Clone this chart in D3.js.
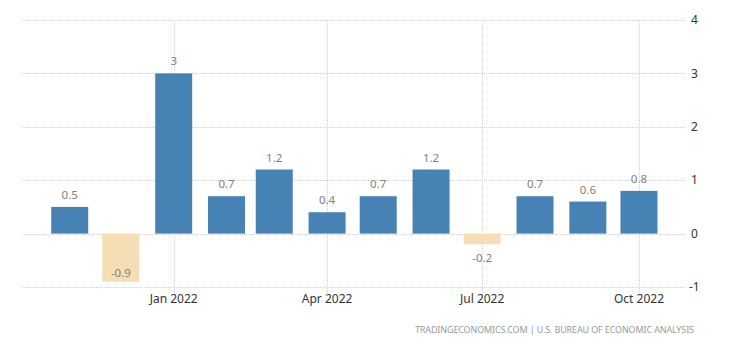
<!DOCTYPE html>
<html><head><meta charset="utf-8">
<script src="https://cdn.jsdelivr.net/npm/d3@7"></script>
<style>
html,body{margin:0;padding:0;background:#fff;}
svg{display:block;}
</style>
</head><body>
<svg id="chart" width="740" height="345"></svg>
<script>
const months = ["2021-11-01","2021-12-01","2022-01-01","2022-02-01","2022-03-01","2022-04-01","2022-05-01","2022-06-01","2022-07-01","2022-08-01","2022-09-01","2022-10-01"];
const values = [0.5,-0.9,3,0.7,1.2,0.4,0.7,1.2,-0.2,0.7,0.6,0.8];
const yTicks = [-1,0,1,2,3,4];
const xTickDates = ["2022-01-01","2022-04-01","2022-07-01","2022-10-01"];
const xDomain = ["2021-10-04","2022-10-28"];
const source = "TRADINGECONOMICS.COM | U.S. BUREAU OF ECONOMIC ANALYSIS";

const parse = d3.utcParse("%Y-%m-%d");
const fmt = d3.utcFormat("%b %Y");
const svg = d3.select("#chart");
const pLeft = 22, pRight = 685, pTop = 20, pBottom = 287;

const x = d3.scaleUtc().domain(xDomain.map(parse)).range([pLeft, pRight]);
const y = d3.scaleLinear().domain([-1, 4]).range([pBottom, pTop]);
const barW = 37;

// horizontal grid
svg.append("g").selectAll("line").data(yTicks).join("line")
  .attr("x1", pLeft).attr("x2", pRight)
  .attr("y1", d => Math.round(y(d)) + 0.5).attr("y2", d => Math.round(y(d)) + 0.5)
  .attr("stroke", "#d0d0d0").attr("stroke-width", 1).attr("stroke-dasharray", "1,1");

// vertical grid
svg.append("g").selectAll("line").data(xTickDates.map(parse)).join("line")
  .attr("x1", d => Math.round(x(d)) + 0.5).attr("x2", d => Math.round(x(d)) + 0.5)
  .attr("y1", pTop).attr("y2", pBottom + 6)
  .attr("stroke", "#d0d0d0").attr("stroke-width", 1).attr("stroke-dasharray", "1,1");

// bars
const data = months.map((m, i) => ({date: parse(m), v: values[i]}));
svg.append("g").selectAll("rect").data(data).join("rect")
  .attr("x", d => x(d.date) - barW / 2)
  .attr("width", barW)
  .attr("y", d => y(Math.max(0, d.v)))
  .attr("height", d => Math.abs(y(d.v) - y(0)))
  .attr("fill", d => d.v >= 0 ? "#4682b4" : "#f5deb3");

// value labels
svg.append("g").selectAll("text").data(data).join("text")
  .attr("x", d => x(d.date))
  .attr("y", d => d.v >= 0 ? y(d.v) - 12 : Math.min(y(d.v) + 14, pBottom - 14))
  .attr("dy", "0.35em")
  .attr("text-anchor", "middle")
  .attr("font-family", "'Noto Sans', sans-serif")
  .attr("font-size", 11.5)
  .attr("fill", "#808080")
  .text(d => String(d.v));

// y axis labels (right)
svg.append("g").selectAll("text").data(yTicks).join("text")
  .attr("x", d => d < 0 ? 689 : 691)
  .attr("y", d => y(d))
  .attr("dy", "0.35em")
  .attr("font-family", "'Noto Sans', sans-serif")
  .attr("font-size", 12)
  .attr("fill", "#333")
  .text(d => String(d));

// x axis labels
svg.append("g").selectAll("text").data(xTickDates.map(parse)).join("text")
  .attr("x", d => x(d))
  .attr("y", 299)
  .attr("dy", "0.35em")
  .attr("text-anchor", "middle")
  .attr("font-family", "'Noto Sans', sans-serif")
  .attr("font-size", 12)
  .attr("fill", "#333")
  .text(d => fmt(d));

// source
svg.append("text")
  .attr("x", 694).attr("y", 330).attr("dy", "0.35em")
  .attr("text-anchor", "end")
  .attr("font-family", "'Noto Sans', sans-serif")
  .attr("font-size", 9)
  .attr("fill", "#999")
  .attr("textLength", 279).attr("lengthAdjust", "spacing")
  .text(source);
</script>
</body></html>
